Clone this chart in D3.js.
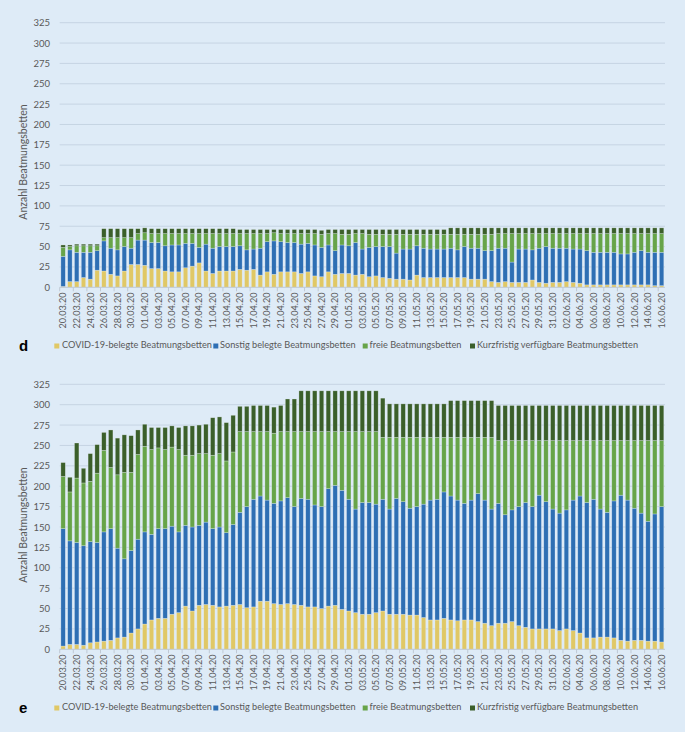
<!DOCTYPE html>
<html><head><meta charset="utf-8">
<script src="https://cdn.jsdelivr.net/npm/d3@7"></script>
<style>
html,body{margin:0;padding:0;background:#deebf7;}
svg{display:block;}
</style></head><body>
<svg id="chart" width="685" height="732"></svg>
<script>
const dates = ["20.03.20","21.03.20","22.03.20","23.03.20","24.03.20","25.03.20","26.03.20","27.03.20","28.03.20","29.03.20","30.03.20","31.03.20",
"01.04.20","02.04.20","03.04.20","04.04.20","05.04.20","06.04.20","07.04.20","08.04.20","09.04.20","10.04.20","11.04.20","12.04.20","13.04.20","14.04.20","15.04.20","16.04.20","17.04.20","18.04.20","19.04.20","20.04.20","21.04.20","22.04.20","23.04.20","24.04.20","25.04.20","26.04.20","27.04.20","28.04.20","29.04.20","30.04.20",
"01.05.20","02.05.20","03.05.20","04.05.20","05.05.20","06.05.20","07.05.20","08.05.20","09.05.20","10.05.20","11.05.20","12.05.20","13.05.20","14.05.20","15.05.20","16.05.20","17.05.20","18.05.20","19.05.20","20.05.20","21.05.20","22.05.20","23.05.20","24.05.20","25.05.20","26.05.20","27.05.20","28.05.20","29.05.20","30.05.20","31.05.20",
"01.06.20","02.06.20","03.06.20","04.06.20","05.06.20","06.06.20","07.06.20","08.06.20","09.06.20","10.06.20","11.06.20","12.06.20","13.06.20","14.06.20","15.06.20","16.06.20"];

const yTicks = [0,25,50,75,100,125,150,175,200,225,250,275,300,325];
const seriesNames = ["COVID-19-belegte Beatmungsbetten","Sonstig belegte Beatmungsbetten","freie Beatmungsbetten","Kurzfristig verfügbare Beatmungsbetten"];
const seriesColors = ["#e0c866","#2e6fb4","#67a449","#3b5f2a"];

// Panel d
const covidD   = [1,7,7,12,10,21,20,16,14,20,28,28,27,23,23,20,19,19,24,26,30,20,17,20,20,20,22,21,22,15,19,16,19,19,19,17,19,14,13,19,16,17,17,15,16,13,14,12,11,10,10,9,15,12,12,12,12,12,12,12,10,10,10,7,6,7,6,6,6,9,6,5,6,6,7,6,5,3,3,3,3,3,3,3,3,3,3,2,2];
const sonstigD = [37,39,36,31,33,24,37,32,32,30,20,30,31,32,32,31,33,33,30,28,19,33,31,30,30,30,29,25,25,33,37,41,37,36,36,36,35,38,36,33,29,35,34,40,31,36,36,38,39,32,37,38,36,36,35,35,35,36,34,38,38,38,35,38,42,41,25,41,41,37,42,45,42,42,41,41,42,42,40,40,40,40,38,38,40,42,40,41,41];
const freiD    = [11,4,8,8,8,6,4,13,15,11,13,8,9,11,11,15,14,14,12,12,17,13,18,16,16,16,15,20,19,18,10,10,10,11,11,13,12,14,16,14,21,13,14,11,19,16,15,15,15,23,18,18,14,17,18,18,18,17,19,15,17,17,20,20,18,18,35,19,19,20,18,16,18,18,18,19,19,21,23,23,23,23,25,25,23,21,23,23,23];
const kurzD    = [3,2,2,2,2,2,11,11,11,11,11,6,6,6,6,6,6,6,6,6,6,6,6,6,6,6,5,5,5,5,5,4,5,5,5,5,5,5,5,5,5,6,6,5,5,6,6,6,6,6,6,6,6,6,6,6,6,8,8,8,8,8,8,8,7,7,7,7,7,7,7,7,7,7,7,7,7,7,7,7,7,7,7,7,7,7,7,7,7];

// Panel e
const covidE   = [4,6,6,5,8,9,10,11,14,15,20,25,31,36,38,38,43,45,53,47,54,55,54,52,53,54,55,51,52,59,59,56,55,56,55,54,52,52,50,53,54,49,47,45,43,43,45,47,43,43,43,42,42,39,36,36,38,36,35,36,36,34,32,29,32,32,34,29,27,25,25,25,25,23,25,23,20,14,14,15,15,14,11,10,11,11,10,10,9];
const sonstigE = [144,127,125,122,124,122,134,137,110,96,101,110,113,105,110,110,108,99,99,103,98,101,94,98,90,99,113,124,132,129,124,123,127,130,120,131,132,125,125,144,147,146,137,127,137,137,133,137,129,142,138,131,133,139,147,148,155,152,148,143,147,157,151,143,147,133,137,146,153,150,164,156,147,144,146,160,168,166,170,157,153,168,178,173,162,156,147,156,166];
const freiE    = [64,60,79,77,74,85,100,75,90,106,96,104,105,104,99,97,97,101,86,88,88,84,90,90,88,89,99,92,83,79,84,86,85,81,92,82,83,90,92,70,66,72,83,95,87,87,89,76,88,75,79,87,85,82,77,76,67,72,77,81,77,69,77,88,77,91,85,81,76,81,67,75,84,89,85,73,68,76,72,84,88,74,67,73,83,89,99,90,81];
const kurzE    = [17,18,43,18,34,35,22,46,45,46,45,30,27,27,25,27,26,27,36,36,35,36,46,45,47,45,31,31,32,32,32,32,32,40,40,50,50,50,50,50,50,50,50,50,50,50,50,48,41,41,41,41,41,41,41,41,41,45,45,45,45,45,45,45,43,43,43,43,43,43,43,43,43,43,43,43,43,43,43,43,43,43,43,43,43,43,43,43,43];

const panels = [
  {label:"d", top:22.7, bottom:287.3, legendY:346, titleY:162, series:[covidD,sonstigD,freiD,kurzD]},
  {label:"e", top:384.3, bottom:649.3, legendY:708, titleY:525, series:[covidE,sonstigE,freiE,kurzE]}
];

const svg = d3.select("#chart");
const FONT = "Lato, 'Open Sans', sans-serif";
const TXT = "#595959";
const x0 = 59.7, x1 = 665;

panels.forEach(p => {
  const g = svg.append("g");
  const x = d3.scaleBand().domain(dates).range([x0, x1]).paddingInner(0.35).paddingOuter(0.175);
  const y = d3.scaleLinear().domain([0,325]).range([p.bottom, p.top]);

  // gridlines
  g.append("g").selectAll("line").data(yTicks.filter(t=>t>0)).join("line")
    .attr("x1", x0).attr("x2", x1)
    .attr("y1", d=>y(d)).attr("y2", d=>y(d))
    .attr("stroke", "#c6d4e3").attr("stroke-width", 1);

  // stacked bars
  const rows = dates.map((d,i)=>{
    const r = {date:d};
    seriesNames.forEach((s,k)=>{ r[s] = p.series[k][i]; });
    return r;
  });
  const stacked = d3.stack().keys(seriesNames)(rows);
  g.append("g").selectAll("g").data(stacked).join("g")
    .attr("fill", (d,k)=>seriesColors[k])
    .selectAll("rect").data(d=>d).join("rect")
    .attr("x", d=>x(d.data.date))
    .attr("width", x.bandwidth())
    .attr("y", d=>y(d[1]))
    .attr("height", d=>Math.max(0, y(d[0]) - y(d[1])))
    .attr("stroke", "rgba(240,245,250,0.45)").attr("stroke-width", 0.6);

  // x axis baseline
  g.append("line").attr("x1", x0).attr("x2", x1)
    .attr("y1", y(0)).attr("y2", y(0))
    .attr("stroke", "#bfc9d4").attr("stroke-width", 1);

  // tick marks at category boundaries every 2 categories
  const step = x.step();
  const tickIdx = d3.range(0, dates.length+1, 2);
  g.append("g").selectAll("line").data(tickIdx).join("line")
    .attr("x1", i=>x0 + i*step).attr("x2", i=>x0 + i*step)
    .attr("y1", y(0)).attr("y2", y(0)+4)
    .attr("stroke", "#bfc9d4").attr("stroke-width", 1);

  // y axis labels
  const yAxis = d3.axisLeft(y).tickValues(yTicks).tickSize(0).tickPadding(0);
  const ya = g.append("g").attr("transform", `translate(50,0)`).call(yAxis);
  ya.select(".domain").remove();
  ya.selectAll("text").attr("font-family", FONT).attr("font-size", 9.5).attr("fill", TXT);

  // x axis labels
  const xAxis = d3.axisBottom(x).tickValues(dates.filter((d,i)=>i%2===0)).tickSize(0).tickPadding(0);
  const xa = g.append("g").attr("transform", `translate(0,${y(0)})`).call(xAxis);
  xa.select(".domain").remove();
  xa.selectAll("text")
    .attr("font-family", FONT).attr("font-size", 9.2).attr("fill", TXT)
    .attr("transform", "rotate(-90)")
    .attr("text-anchor", "end")
    .attr("x", -5).attr("y", 0).attr("dy", "0.35em");

  // y title
  g.append("text")
    .attr("transform", `translate(24,${p.titleY}) rotate(-90)`)
    .attr("text-anchor", "middle").attr("dominant-baseline", "middle")
    .attr("font-family", FONT).attr("font-size", 10.5).attr("fill", TXT)
    .text("Anzahl Beatmungsbetten");

  // panel label
  g.append("text").attr("x", 19).attr("y", p.legendY + 5)
    .attr("font-family", "Liberation Sans, Arial, sans-serif").attr("font-weight", "bold")
    .attr("font-size", 15).attr("fill", "#000").text(p.label);

  // legend
  const legX = [[54.3,62],[213.3,220],[362.7,369.5],[470,477]];
  seriesNames.forEach((s,k)=>{
    g.append("rect").attr("x", legX[k][0]).attr("y", p.legendY-2.5)
      .attr("width", 5).attr("height", 5).attr("fill", seriesColors[k]);
    g.append("text").attr("x", legX[k][1]).attr("y", p.legendY)
      .attr("dominant-baseline", "middle")
      .attr("font-family", FONT).attr("font-size", 9.2).attr("fill", TXT).text(s);
  });
});
</script>
</body></html>
